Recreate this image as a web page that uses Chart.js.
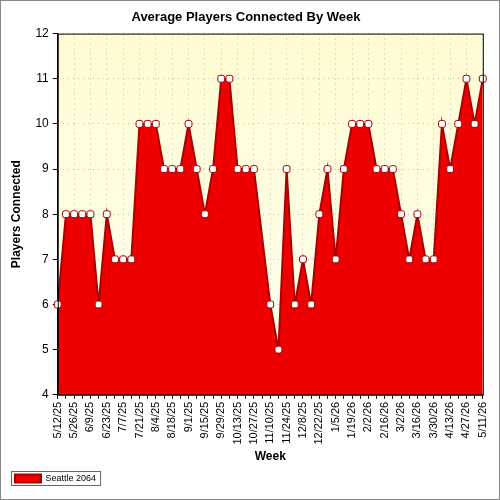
<!DOCTYPE html>
<html>
<head>
<script src="https://cdn.jsdelivr.net/npm/chart.js@4"></script>
<style>
  body { margin: 0; background: #fff; }
  #wrap { width: 498px; height: 498px; border: 1px solid #888; }
</style>
</head>
<body>
<div id="wrap"><canvas id="myChart" width="498" height="498"></canvas></div>
<script>
const weeks = [
  "5/12/25", "5/19/25", "5/26/25", "6/2/25", "6/9/25", "6/16/25", "6/23/25", "6/30/25",
  "7/7/25", "7/14/25", "7/21/25", "7/28/25", "8/4/25", "8/11/25", "8/18/25", "8/25/25",
  "9/1/25", "9/8/25", "9/15/25", "9/22/25", "9/29/25", "10/6/25", "10/13/25", "10/20/25",
  "10/27/25", "11/3/25", "11/10/25", "11/17/25", "11/24/25", "12/1/25", "12/8/25", "12/15/25",
  "12/22/25", "12/29/25", "1/5/26", "1/12/26", "1/19/26", "1/26/26", "2/2/26", "2/9/26",
  "2/16/26", "2/23/26", "3/2/26", "3/9/26", "3/16/26", "3/23/26", "3/30/26", "4/6/26",
  "4/13/26", "4/20/26", "4/27/26", "5/4/26", "5/11/26"
];
const players = [
  6, 8, 8, 8, 8, 6, 8, 7, 7, 7, 10, 10, 10, 9, 9, 9,
  10, 9, 8, 9, 11, 11, 9, 9, 9, null, 6, 5, 9, 6, 7, 6,
  8, 9, 7, 9, 10, 10, 10, 9, 9, 9, 8, 7, 8, 7, 7, 10,
  9, 10, 11, 10, 11
];
const yTicks = [4, 5, 6, 7, 8, 9, 10, 11, 12];

const plotBg = {
  id: "plotBg",
  beforeDraw(chart) {
    const { ctx, chartArea: a } = chart;
    const g = ctx.createLinearGradient(0, a.top, 0, a.bottom);
    g.addColorStop(0, "#fffbd2");
    g.addColorStop(1, "#fffff0");
    ctx.save();
    ctx.fillStyle = g;
    ctx.fillRect(a.left, a.top, a.right - a.left, a.bottom - a.top);
    ctx.restore();
  },
  afterDraw(chart) {
    const { ctx, chartArea: a, legend: l } = chart;
    ctx.save();
    ctx.strokeStyle = "#000";
    ctx.lineWidth = 1;
    ctx.strokeRect(a.left + 0.5, a.top + 0.5, a.right - a.left, a.bottom - a.top);
    // legend frame
    const h = l.legendHitBoxes[0];
    ctx.strokeStyle = "#666";
    ctx.strokeRect(Math.round(h.left) - 3.5, Math.round(h.top) - 2.5, h.width + 8, h.height + 5);
    ctx.restore();
  }
};

const ctx = document.getElementById("myChart").getContext("2d");
const myChart = new Chart(ctx, {
  type: "line",
  data: {
    labels: weeks,
    datasets: [
      {
        label: "Seattle 2064",
        data: players,
        spanGaps: true,
        fill: "start",
        backgroundColor: "#ee0000",
        borderColor: "#aa0000",
        borderWidth: 2,
        tension: 0,
        pointStyle: "rectRounded",
        pointRadius: 4,
        pointBackgroundColor: "#ffffff",
        pointBorderColor: "#aa0000",
        pointBorderWidth: 1,
      },
    ],
  },
  options: {
    responsive: false,
    animation: false,
    layout: { padding: { left: 8, right: 16, top: 0, bottom: 6 } },
    scales: {
      x: {
        offset: false,
        grid: {
          color: (c) => (c.index % 2 === 0 ? "#c0c0c0" : "transparent"),
          tickColor: "#000",
          tickLength: 4,
        },
        border: { color: "#000", dash: [1, 4] },
        ticks: {
          autoSkip: false,
          maxRotation: 90,
          minRotation: 90,
          color: "#000",
          font: { family: "Liberation Sans", size: 11 },
          callback: (v, i) => (i % 2 === 0 ? weeks[i] : ""),
        },
        title: {
          display: true,
          text: "Week",
          color: "#000",
          font: { family: "Liberation Sans", size: 12, weight: "bold" },
          padding: { top: 2, bottom: 4 },
        },
      },
      y: {
        min: 4,
        max: 12,
        afterBuildTicks: (s) => { s.ticks = yTicks.map((v) => ({ value: v })); },
        grid: { color: "#c0c0c0", tickColor: "#000", tickLength: 5 },
        border: { color: "#000", dash: [1, 4] },
        ticks: { color: "#000", padding: 4, font: { family: "Liberation Sans", size: 12 } },
        title: {
          display: true,
          text: "Players Connected",
          color: "#000",
          font: { family: "Liberation Sans", size: 12, weight: "bold" },
          padding: { top: 0, bottom: 8 },
        },
      },
    },
    plugins: {
      title: {
        display: true,
        text: "Average Players Connected By Week",
        color: "#000",
        font: { family: "Liberation Sans", size: 13, weight: "bold" },
        padding: { top: 9, bottom: 8 },
      },
      legend: {
        position: "bottom",
        align: "start",
        labels: {
          color: "#000",
          boxWidth: 26,
          boxHeight: 8,
          padding: 6,
          font: { family: "Liberation Sans", size: 9 },
        },
      },
      tooltip: { enabled: false },
    },
  },
  plugins: [plotBg],
});
</script>
</body>
</html>
